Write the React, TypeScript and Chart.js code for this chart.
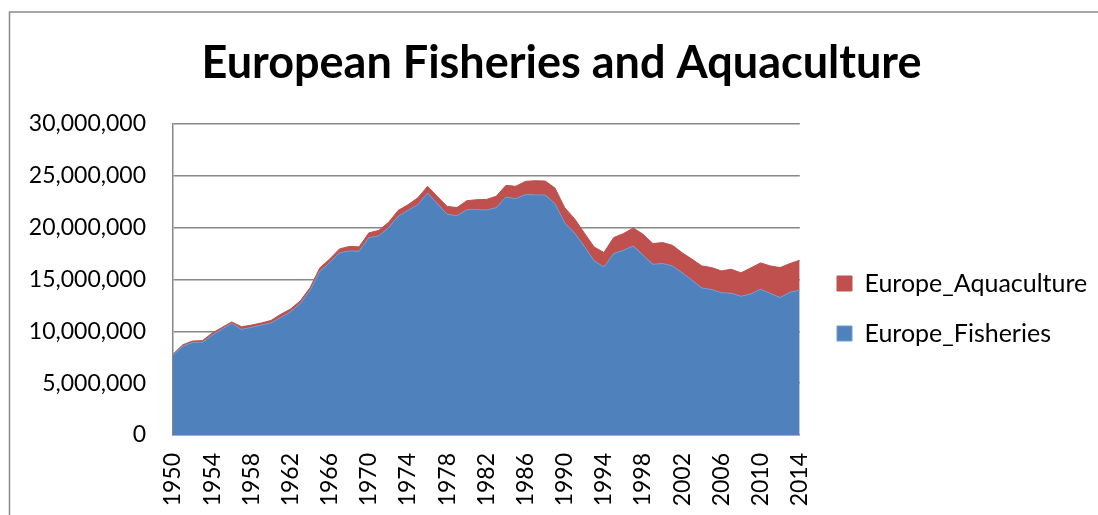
import React, { useEffect, useRef } from "react";
import { Chart, registerables } from "chart.js";

Chart.register(...registerables);

const years: string[] = [];
for (let y = 1950; y <= 2014; y++) years.push(String(y));

const fisheries: number[] = [
  7700000, 8570000, 8930000, 8930000, 9630000, 10200000, 10760000, 10180000, 10380000, 10600000,
  10800000, 11340000, 11880000, 12680000, 13970000, 15800000, 16630000, 17570000, 17760000, 17730000,
  19040000, 19200000, 20000000, 21100000, 21680000, 22220000, 23350000, 22300000, 21290000, 21160000,
  21740000, 21740000, 21700000, 21930000, 22960000, 22800000, 23190000, 23160000, 23160000, 22320000,
  20450000, 19490000, 18200000, 16800000, 16200000, 17500000, 17820000, 18240000, 17340000, 16470000,
  16540000, 16310000, 15640000, 14930000, 14190000, 14030000, 13710000, 13680000, 13390000, 13610000,
  14060000, 13650000, 13260000, 13780000, 13970000,
];

const aquaculture: number[] = [
  100000, 130000, 140000, 170000, 200000, 170000, 150000, 260000, 220000, 200000,
  250000, 300000, 270000, 260000, 250000, 330000, 340000, 380000, 430000, 420000,
  460000, 530000, 500000, 570000, 530000, 660000, 640000, 700000, 760000, 780000,
  860000, 960000, 1020000, 1090000, 1120000, 1190000, 1280000, 1370000, 1340000, 1510000,
  1480000, 1380000, 1290000, 1340000, 1400000, 1540000, 1610000, 1730000, 2020000, 2000000,
  2020000, 1990000, 1930000, 2030000, 2120000, 2120000, 2120000, 2310000, 2250000, 2510000,
  2540000, 2660000, 2890000, 2760000, 2890000,
];

const seriesNames = ["Europe_Fisheries", "Europe_Aquaculture"];
const yTicks = [0, 5000000, 10000000, 15000000, 20000000, 25000000, 30000000];
const titleText = "European Fisheries and Aquaculture";

const LEGEND_PAD = 25;

const frame = {
  id: "frame",
  afterLayout(chart: any) {
    const tb = chart.titleBlock;
    if (tb) {
      tb.left = 25;
      tb.right = 1098;
      tb.width = tb.right - tb.left;
    }
    const lg = chart.legend;
    if (lg) {
      const h = lg.height;
      lg.left = 837 - LEGEND_PAD;
      lg.right = 1098;
      lg.width = lg.right - lg.left;
      lg.top = 271 - LEGEND_PAD;
      lg.bottom = lg.top + h;
    }
  },
  afterDraw(chart: any) {
    const ctx = chart.ctx;
    ctx.save();
    ctx.strokeStyle = "#8a8a8a";
    ctx.lineWidth = 1.5;
    ctx.beginPath();
    ctx.moveTo(9.5, chart.height);
    ctx.lineTo(9.5, 12);
    ctx.lineTo(chart.width, 12);
    ctx.stroke();
    ctx.restore();
  },
};

export default function App() {
  const ref = useRef<HTMLCanvasElement | null>(null);
  useEffect(() => {
    if (!ref.current) return;
    const font = "Lato";
    const chart = new Chart(ref.current, {
      type: "line",
      data: {
        labels: years,
        datasets: [
          {
            label: seriesNames[0],
            data: fisheries,
            backgroundColor: "#4F81BD",
            borderColor: "#6f9bd0",
            borderWidth: 1,
            pointRadius: 0,
            fill: "origin",
            tension: 0,
          },
          {
            label: seriesNames[1],
            data: aquaculture,
            backgroundColor: "#C0504D",
            borderColor: "#C0504D",
            borderWidth: 1,
            pointRadius: 0,
            fill: "-1",
            tension: 0,
          },
        ],
      },
      options: {
        responsive: false,
        animation: false,
        devicePixelRatio: 1,
        layout: { padding: { left: 25, right: 40, top: 0, bottom: 0 } },
        plugins: {
          title: {
            display: true,
            text: titleText,
            color: "#000",
            font: { family: font, size: 45, weight: "bold" },
            padding: { top: 36, bottom: 34 },
          },
          legend: {
            position: "right",
            align: "start",
            reverse: true,
            labels: {
              color: "#000",
              font: { family: font, size: 25 },
              boxWidth: 15,
              boxHeight: 15,
              padding: LEGEND_PAD,
            },
          },
          tooltip: { enabled: false },
        },
        scales: {
          x: {
            offset: false,
            grid: { display: false, drawTicks: false },
            border: { display: true, color: "#a0a0a0", width: 1.5 },
            ticks: {
              autoSkip: false,
              maxRotation: 90,
              minRotation: 90,
              padding: 18,
              color: "#000",
              font: { family: font, size: 23 },
              callback: (v: any, i: number) => ((1950 + i) % 4 === 2 ? years[i] : ""),
            },
            afterFit: (s: any) => {
              s.height = 80;
            },
          },
          y: {
            stacked: true,
            min: 0,
            max: 30000000,
            afterBuildTicks: (s: any) => {
              s.ticks = yTicks.map((v) => ({ value: v }));
            },
            grid: { color: "#878787", lineWidth: 1.5, drawTicks: false },
            border: { display: true, color: "#878787", width: 1.5 },
            ticks: {
              padding: 27,
              color: "#000",
              font: { family: font, size: 23 },
              callback: (v: any) => Number(v).toLocaleString("en-US"),
            },
            afterFit: (s: any) => {
              s.width = 148;
            },
          },
        },
      },
      plugins: [frame],
    });
    return () => chart.destroy();
  }, []);
  return (
    <div style={{ position: "absolute", left: 0, top: 0, width: 1098, height: 515, background: "#fff" }}>
      <canvas ref={ref} width={1098} height={515} style={{ width: 1098, height: 515, display: "block" }} />
    </div>
  );
}
